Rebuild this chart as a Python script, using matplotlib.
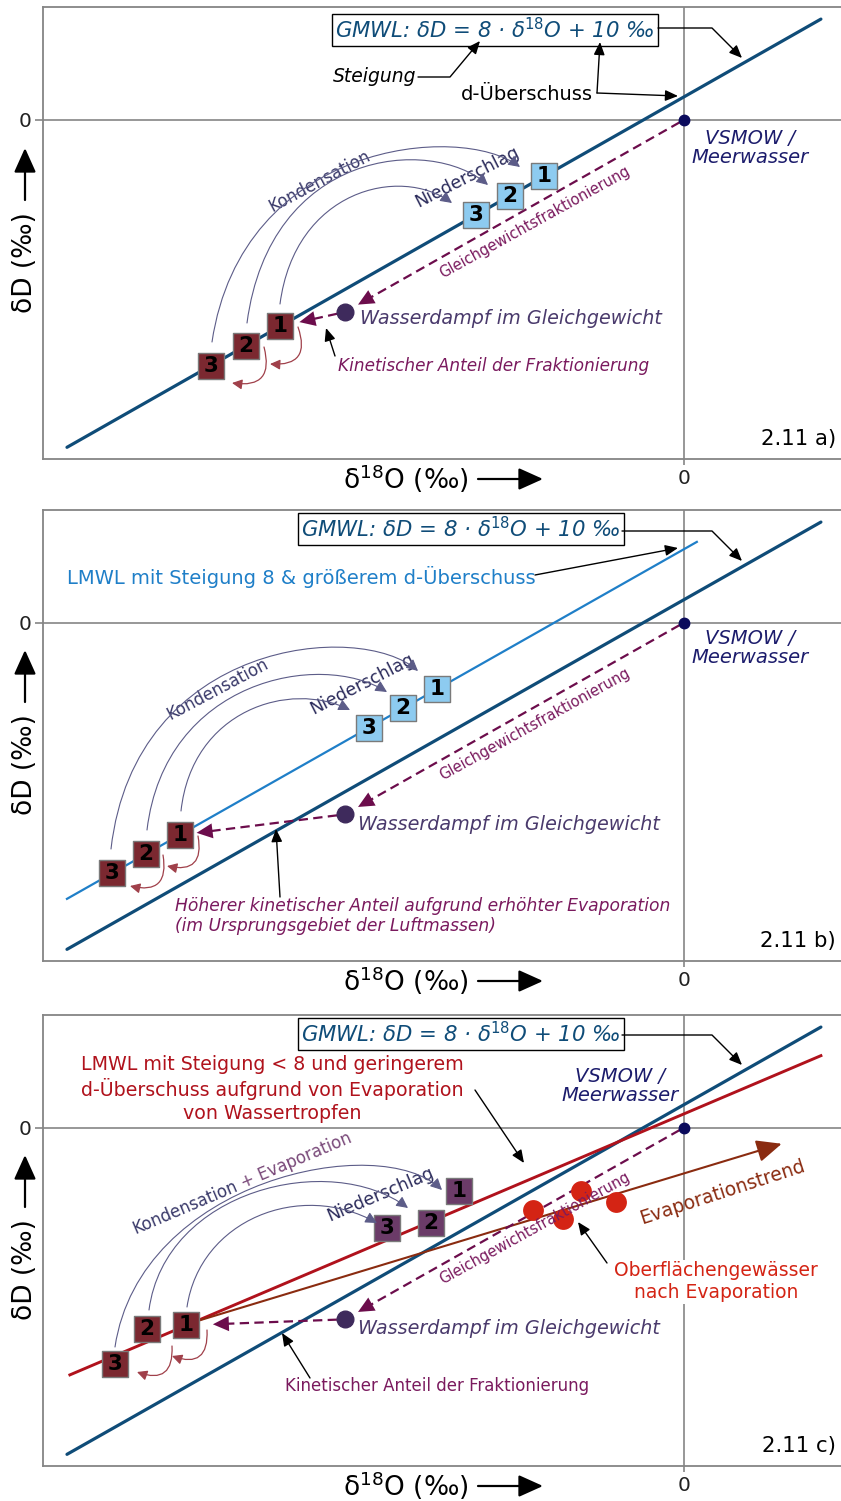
import numpy as np
import matplotlib
matplotlib.use('Agg')
import matplotlib.pyplot as plt
from matplotlib.patches import FancyArrowPatch, Polygon
from matplotlib.path import Path
from matplotlib.transforms import Affine2D

plt.rcParams['font.family'] = ['DejaVu Sans']
plt.rcParams['mathtext.default'] = 'regular'

W, H = 841, 1501

# ---------------- data (per mille) ----------------
x_range = (-19.78, 4.85)
y_range = (-147.4, 49.1)
gmwl_slope, gmwl_dexcess = 8.0, 10.0
gmwl_x = [-19.04, 4.23]
lmwl_b_slope, lmwl_b_dexcess = 8.0, 32.0
lmwl_b_x = [-19.04, 0.40]
lmwl_c_slope, lmwl_c_dexcess = 6.0, 6.0
lmwl_c_x = [-18.95, 4.23]
vsmow_x, vsmow_y = 0.0, 0.0
vapor_x, vapor_y = -10.46, -83.5
square_labels = ['1', '2', '3']
a_cond_x = [-12.47, -13.52, -14.60]
a_prec_x = [-4.32, -5.37, -6.42]
b_cond_x = [-15.56, -16.60, -17.65]
b_prec_x = [-7.62, -8.67, -9.72]
c_cond_x = [-15.37, -16.57, -17.56]
c_cond_y = [-86.1, -87.8, -103.0]
c_prec_x = [-6.94, -7.81, -9.17]
c_prec_y = [-27.8, -41.7, -43.9]
evap_x = [-14.94, 3.02]
evap_y = [-83.9, -7.0]
surf_x = [-4.66, -3.18, -3.73, -2.10]
surf_y = [-35.7, -27.4, -40.0, -32.2]

# ---------------- colours ----------------
GMWL_C = '#0f4c78'
LMWL_B_C = '#1f7fc8'
LMWL_C_C = '#b0121c'
EVAP_C = '#8a2b10'
DASH_C = '#6c0d4c'
COND_FILL = '#7b2830'
PREC_FILL = '#8dcbf0'
PREC_C_FILL = '#6b3b68'
VSMOW_C = '#0b0b5c'
VAPOR_C = '#3e2a5c'
ARC_C = '#5c5c88'
TXT_NAVY = '#1c1c6c'
TXT_PURPLE = '#7a1a5e'
TXT_VAPOR = '#4a3a6c'
SURF_C = '#d42414'
GRAY = '#858585'
BROWN_ARC = '#a0404a'

fig = plt.figure(figsize=(W / 100, H / 100), dpi=100)
T = Affine2D().scale(1 / W, -1 / H).translate(0, 1) + fig.transFigure


def line_y(xs, slope, d):
    return [slope * x + d for x in xs]


def txt(x, y, s, **kw):
    kw.setdefault('ha', 'center')
    kw.setdefault('va', 'center')
    return fig.text(x, y, s, transform=T, **kw)


def arrow(pts, color='black', lw=1.0, head=(0.7, 0.3), ms=11, curve=False, zorder=5):
    if curve:
        codes = [Path.MOVETO, Path.CURVE4, Path.CURVE4, Path.CURVE4]
    else:
        codes = [Path.MOVETO] + [Path.LINETO] * (len(pts) - 1)
    p = FancyArrowPatch(path=Path(pts, codes),
                        arrowstyle='-|>,head_length=%g,head_width=%g' % head,
                        mutation_scale=ms, lw=lw, color=color, transform=T,
                        zorder=zorder)
    fig.add_artist(p)


def small_arc(p0, p1, color=BROWN_ARC):
    p = FancyArrowPatch(p0, p1, connectionstyle='arc3,rad=-0.75',
                        arrowstyle='-|>,head_length=0.6,head_width=0.3',
                        mutation_scale=10, lw=0.9, color=color, transform=T,
                        shrinkA=0, shrinkB=0, zorder=5)
    fig.add_artist(p)


def dashed_arrow(ax, start, end, shrinkA, shrinkB):
    p0 = ax.transData.transform(start)
    p1 = ax.transData.transform(end)
    d = p1 - p0
    u = d / np.hypot(*d)
    perp = np.array([-u[1], u[0]])
    a = p0 + u * shrinkA
    tip = p1 - u * shrinkB
    base = tip - u * 16
    inv = ax.transData.inverted()
    la, lb = inv.transform(a), inv.transform(base + u * 2)
    ax.plot([la[0], lb[0]], [la[1], lb[1]], ls=(0, (4.2, 2.4)), lw=1.6, color=DASH_C, zorder=4)
    tri = inv.transform(np.array([tip, base + perp * 7.5, base - perp * 7.5]))
    ax.add_patch(Polygon(tri, closed=True, facecolor=DASH_C, edgecolor='none', zorder=4))


def add_panel(top, bottom):
    ax = fig.add_axes([43 / W, 1 - bottom / H, (W - 43) / W, (bottom - top) / H])
    ax.set_xlim(*x_range)
    ax.set_ylim(*y_range)
    for s in ['left', 'top', 'bottom']:
        ax.spines[s].set_color(GRAY)
        ax.spines[s].set_linewidth(1.3)
    ax.spines['right'].set_visible(False)
    ax.axhline(0, color=GRAY, lw=1.2, zorder=1)
    ax.axvline(0, color=GRAY, lw=1.2, zorder=1)
    ax.set_xticks([0])
    ax.set_xticklabels(['0'])
    ax.set_yticks([0])
    ax.set_yticklabels(['0'])
    ax.tick_params(axis='x', length=4.5, width=1.2, color=GRAY, labelsize=14.5, pad=3, labelcolor='#222222')
    ax.tick_params(axis='y', length=6, width=1.2, color=GRAY, labelsize=14.5, pad=2, labelcolor='#222222')
    return ax


def common(ax, off, box_cx, tag):
    # axis labels with arrows
    txt(406, 479 + off, 'δ$^{18}$O (‰)', fontsize=19)
    arrow([(478, 479 + off), (543, 479 + off)], lw=1.6, head=(1.0, 0.45), ms=15)
    txt(25, 263 + off, 'δD (‰)', fontsize=19, rotation=90)
    arrow([(25, 200 + off), (25, 148 + off)], lw=1.6, head=(1.0, 0.45), ms=15)
    # GMWL box
    txt(box_cx, 30 + off - (3 if off else 0), r'GMWL: δD = 8 · δ$^{\mathit{18}}$O + 10 ‰', fontsize=15.3,
        style='italic', color=GMWL_C,
        bbox=dict(boxstyle='square,pad=0.15', fc='white', ec='black', lw=1.0))
    # panel tag
    txt(836, 439 + off, tag, fontsize=15.3, ha='right')
    # VSMOW point and GMWL
    ax.plot(gmwl_x, line_y(gmwl_x, gmwl_slope, gmwl_dexcess), color=GMWL_C, lw=2.3,
            solid_capstyle='round', zorder=3)
    ax.plot([vsmow_x], [vsmow_y], 'o', ms=7.5, color=VSMOW_C, zorder=6)
    ax.plot([vapor_x], [vapor_y], 'o', ms=12, color=VAPOR_C, zorder=6)
    # equilibrium fractionation (dashed)
    dashed_arrow(ax, (vsmow_x, vsmow_y), (vapor_x, vapor_y), 5, 15)


def squares(ax, xs, ys, fill, edge='#7a7a7a'):
    ax.scatter(xs, ys, marker='s', s=345, c=fill, edgecolors=edge, linewidths=1.0, zorder=7)
    for x, y, lab in zip(xs, ys, square_labels):
        ax.text(x, y, lab, ha='center', va='center', fontsize=15.5, fontweight='bold',
                color='black', zorder=8)


def kinetic(ax, cond_x, cond_y, shrinkB):
    dashed_arrow(ax, (vapor_x, vapor_y), (cond_x[0], cond_y[0]), 8, shrinkB)


def arcs(curves):
    for p0, p1, p2, p3 in curves:
        arrow([p0, p1, p2, p3], color=ARC_C, lw=0.8, head=(0.7, 0.35), ms=10, curve=True)


# ======================= panel a =======================
ax = add_panel(7, 459)
off = 0
common(ax, off, 495, '2.11 a)')
a_cond_y = line_y(a_cond_x, gmwl_slope, gmwl_dexcess)
a_prec_y = line_y(a_prec_x, gmwl_slope, gmwl_dexcess)
squares(ax, a_cond_x, a_cond_y, COND_FILL)
squares(ax, a_prec_x, a_prec_y, PREC_FILL)
kinetic(ax, a_cond_x, a_cond_y, 20)
arcs([[(212, 342), (242, 142), (460, 122), (520, 167)],
      [(247, 323), (270, 150), (430, 135), (488, 185)],
      [(280, 304), (295, 190), (400, 165), (452, 203)]])
small_arc((298, 327), (270, 364))
small_arc((264, 347), (232, 383))
# connectors
arrow([(658, 28), (712, 28), (742, 58)])
txt(416, 77, 'Steigung', ha='right', fontsize=13.5, style='italic')
arrow([(418, 77), (450, 77), (480, 41)])
txt(593, 94, 'd-Überschuss', ha='right', fontsize=14)
arrow([(597, 93), (600, 42)])
arrow([(597, 93), (678, 96)])
txt(750, 148, 'VSMOW /\nMeerwasser', fontsize=14, style='italic', color=TXT_NAVY, linespacing=1.0)
txt(360, 319, 'Wasserdampf im Gleichgewicht', ha='left', fontsize=13.8, style='italic', color=TXT_VAPOR)
txt(338, 366, 'Kinetischer Anteil der Fraktionierung', ha='left', fontsize=12.2, style='italic', color=TXT_PURPLE)
arrow([(335, 356), (326, 328)])
txt(535, 222, 'Gleichgewichtsfraktionierung', fontsize=10.5, rotation=29, color=TXT_PURPLE)
txt(320, 181, 'Kondensation', fontsize=12, rotation=28, color='#3a3a6a')
txt(467, 177, 'Niederschlag', fontsize=12.5, rotation=27, color='#2a2a5a')

# ======================= panel b =======================
ax = add_panel(510, 961)
off = 502
common(ax, off, 461, '2.11 b)')
ax.plot(lmwl_b_x, line_y(lmwl_b_x, lmwl_b_slope, lmwl_b_dexcess), color=LMWL_B_C, lw=1.6, zorder=3)
b_cond_y = line_y(b_cond_x, lmwl_b_slope, lmwl_b_dexcess)
b_prec_y = line_y(b_prec_x, lmwl_b_slope, lmwl_b_dexcess)
squares(ax, b_cond_x, b_cond_y, COND_FILL)
squares(ax, b_prec_x, b_prec_y, PREC_FILL)
kinetic(ax, b_cond_x, b_cond_y, 17)
arcs([[(111, 849), (135, 640), (360, 620), (418, 671)],
      [(147, 830), (165, 680), (320, 650), (387, 692)],
      [(181, 811), (192, 710), (290, 680), (350, 710)]])
small_arc((198, 836), (167, 866))
small_arc((163, 855), (130, 886))
arrow([(622, 531), (712, 531), (742, 561)])
txt(67, 577, 'LMWL mit Steigung 8 & größerem d-Überschuss', ha='left', fontsize=14, color=LMWL_B_C)
arrow([(535, 575), (678, 548)])
txt(750, 648, 'VSMOW /\nMeerwasser', fontsize=14, style='italic', color=TXT_NAVY, linespacing=1.0)
txt(358, 824, 'Wasserdampf im Gleichgewicht', ha='left', fontsize=13.8, style='italic', color=TXT_VAPOR)
txt(175, 916, 'Höherer kinetischer Anteil aufgrund erhöhter Evaporation\n(im Ursprungsgebiet der Luftmassen)',
    ha='left', fontsize=12.3, style='italic', color=TXT_PURPLE, linespacing=1.2)
arrow([(280, 897), (276, 829)])
txt(535, 724, 'Gleichgewichtsfraktionierung', fontsize=10.5, rotation=29, color=TXT_PURPLE)
txt(218, 689, 'Kondensation', fontsize=12, rotation=28, color='#3a3a6a')
txt(362, 684, 'Niederschlag', fontsize=12.5, rotation=27, color='#2a2a5a')

# ======================= panel c =======================
ax = add_panel(1015, 1466)
off = 1007
common(ax, off, 461, '2.11 c)')
ax.plot(lmwl_c_x, line_y(lmwl_c_x, lmwl_c_slope, lmwl_c_dexcess), color=LMWL_C_C, lw=2.1, zorder=3)
ax.annotate('', xy=(evap_x[1], evap_y[1]), xytext=(evap_x[0], evap_y[0]),
            arrowprops=dict(arrowstyle='-|>,head_length=0.9,head_width=0.4', mutation_scale=17,
                            lw=1.5, color=EVAP_C, shrinkA=0, shrinkB=0), zorder=3)
ax.plot(surf_x, surf_y, 'o', ms=15, color=SURF_C, zorder=6, markeredgewidth=0)
squares(ax, c_cond_x, c_cond_y, COND_FILL)
squares(ax, c_prec_x, c_prec_y, PREC_C_FILL)
kinetic(ax, c_cond_x, c_cond_y, 27)
arcs([[(115, 1347), (140, 1180), (380, 1130), (442, 1190)],
      [(149, 1310), (165, 1190), (330, 1150), (408, 1208)],
      [(187, 1307), (200, 1220), (300, 1180), (377, 1223)]])
small_arc((207, 1330), (172, 1356))
small_arc((172, 1346), (137, 1372))
arrow([(622, 1035), (712, 1035), (742, 1065)])
txt(272, 1089, 'LMWL mit Steigung < 8 und geringerem\nd-Überschuss aufgrund von Evaporation\nvon Wassertropfen',
    fontsize=13.7, color=LMWL_C_C, linespacing=1.22)
arrow([(475, 1090), (524, 1163)])
txt(620, 1086, 'VSMOW /\nMeerwasser', fontsize=14, style='italic', color=TXT_NAVY, linespacing=1.0)
txt(358, 1329, 'Wasserdampf im Gleichgewicht', ha='left', fontsize=13.8, style='italic', color=TXT_VAPOR)
txt(285, 1386, 'Kinetischer Anteil der Fraktionierung', ha='left', fontsize=12, color=TXT_PURPLE)
arrow([(310, 1378), (282, 1333)])
txt(535, 1228, 'Gleichgewichtsfraktionierung', fontsize=10.5, rotation=29, color=TXT_PURPLE)
txt(185, 1207, 'Kondensation', fontsize=12, rotation=23, color='#3a3a6a')
txt(296, 1160, '+ Evaporation', fontsize=12, rotation=23, color='#7a4a7a')
txt(380, 1194, 'Niederschlag', fontsize=12.5, rotation=23, color='#2a2a5a')
txt(722, 1192, 'Evaporationstrend', fontsize=13.5, rotation=18, color=EVAP_C)
txt(716, 1282, 'Oberflächengewässer\nnach Evaporation', fontsize=13.5, color=SURF_C, linespacing=1.2,
    bbox=dict(boxstyle='square,pad=0.1', fc='white', ec='none'))
arrow([(607, 1263), (578, 1222)])

fig.savefig('out.png', dpi=100)
